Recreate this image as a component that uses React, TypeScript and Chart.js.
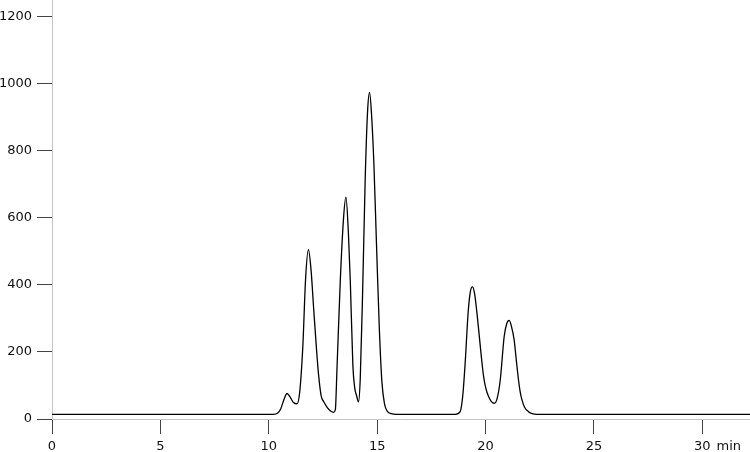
import React, { useEffect, useRef } from "react";
import { Chart, registerables } from "chart.js";

Chart.register(...registerables);

// Retention time (min)
const timeMin: number[] = [
  0, 10.2, 10.4, 10.55, 10.7, 10.84, 10.98, 11.14, 11.3, 11.42,
  11.57, 11.7, 11.83, 11.95, 12.07, 12.2, 12.3, 12.42, 12.53, 12.7,
  12.85, 12.99, 13.07, 13.15, 13.3, 13.45, 13.56, 13.67, 13.76, 13.88,
  13.96, 14.05, 14.14, 14.22, 14.33, 14.45, 14.56, 14.65, 14.74, 14.85,
  14.97, 15.1, 15.22, 15.34, 15.48, 15.65, 15.9, 18.6, 18.83, 18.95,
  19.06, 19.2, 19.3, 19.4, 19.5, 19.6, 19.68, 19.8, 19.91, 20.02,
  20.14, 20.27, 20.4, 20.53, 20.68, 20.86, 20.98, 21.09, 21.2, 21.32,
  21.42, 21.52, 21.6, 21.68, 21.8, 21.98, 22.15, 22.37, 32.2,
];

// Detector signal
const signal: number[] = [
  14, 14, 17, 30, 58, 76, 66, 49, 45, 76,
  215, 420, 505, 445, 330, 210, 130, 68, 52, 34,
  24, 20, 27, 156, 414, 600, 662, 560, 414, 160,
  95, 70, 51, 120, 380, 720, 920, 974, 910, 760,
  520, 270, 110, 45, 22, 16, 14, 14, 22, 70,
  167, 320, 380, 394, 372, 318, 268, 190, 127, 90,
  67, 52, 47, 60, 117, 246, 285, 294, 275, 236,
  175, 117, 80, 57, 35, 22, 16, 14, 14,
];

const xTicks: number[] = [0, 5, 10, 15, 20, 25, 30];
const yTicks: number[] = [0, 200, 400, 600, 800, 1000, 1200];
const xUnit = "min";

const FONT_FAMILY = '"DejaVu Sans", Verdana, sans-serif';
const FONT_SIZE = 13;

const unitPlugin = {
  id: "unitLabel",
  afterDraw(chart: any) {
    const xs = chart.scales.x;
    const ctx = chart.ctx;
    const last = xTicks[xTicks.length - 1];
    ctx.save();
    ctx.font = `${FONT_SIZE}px ${FONT_FAMILY}`;
    ctx.fillStyle = "#111";
    ctx.textBaseline = "middle";
    ctx.textAlign = "left";
    const px = xs.getPixelForValue(last);
    const w = ctx.measureText(String(last)).width;
    const y = chart.chartArea.bottom + 15 + 5 + (FONT_SIZE * 1.2) / 2;
    ctx.fillText(xUnit, px + w / 2 + 6, y);
    ctx.restore();
  },
};

export default function App() {
  const ref = useRef<HTMLCanvasElement | null>(null);

  useEffect(() => {
    if (!ref.current) return;
    const data = timeMin.map((t, i) => ({ x: t, y: signal[i] }));
    const font = { family: FONT_FAMILY, size: FONT_SIZE };
    const chart = new Chart(ref.current, {
      type: "line",
      data: {
        datasets: [
          {
            data,
            borderColor: "#000",
            borderWidth: 1.3,
            pointRadius: 0,
            fill: false,
            cubicInterpolationMode: "monotone",
          },
        ],
      },
      plugins: [unitPlugin],
      options: {
        animation: false,
        responsive: false,
        devicePixelRatio: 1,
        layout: { padding: 0 },
        plugins: { legend: { display: false }, tooltip: { enabled: false } },
        scales: {
          x: {
            type: "linear",
            min: 0,
            max: 32.2,
            afterBuildTicks: (s: any) => {
              s.ticks = xTicks.map((v) => ({ value: v }));
            },
            afterFit: (s: any) => {
              s.height = 33;
              s.paddingLeft = 0;
              s.paddingRight = 0;
            },
            ticks: {
              color: "#111",
              font,
              padding: 5,
              maxRotation: 0,
              autoSkip: false,
              callback: (v: any) => String(v),
            },
            grid: {
              drawOnChartArea: false,
              drawTicks: true,
              tickLength: 15,
              tickColor: "#444",
              tickWidth: 1,
            },
            border: { display: true, color: "#c4c4c4", width: 1 },
          },
          y: {
            type: "linear",
            min: 0,
            max: 1250,
            afterBuildTicks: (s: any) => {
              s.ticks = yTicks.map((v) => ({ value: v }));
            },
            afterFit: (s: any) => {
              s.width = 52;
              s.paddingTop = 0;
              s.paddingBottom = 0;
            },
            ticks: { color: "#111", font, padding: 5, callback: (v: any) => String(v) },
            grid: {
              drawOnChartArea: false,
              drawTicks: true,
              tickLength: 15,
              tickColor: "#444",
              tickWidth: 1,
            },
            border: { display: true, color: "#c4c4c4", width: 1 },
          },
        },
      },
    } as any);
    return () => chart.destroy();
  }, []);

  return (
    <div style={{ position: "absolute", left: 0, top: 0, width: 750, height: 452, background: "#fff" }}>
      <canvas ref={ref} width={750} height={452} style={{ width: 750, height: 452, display: "block" }} />
    </div>
  );
}
